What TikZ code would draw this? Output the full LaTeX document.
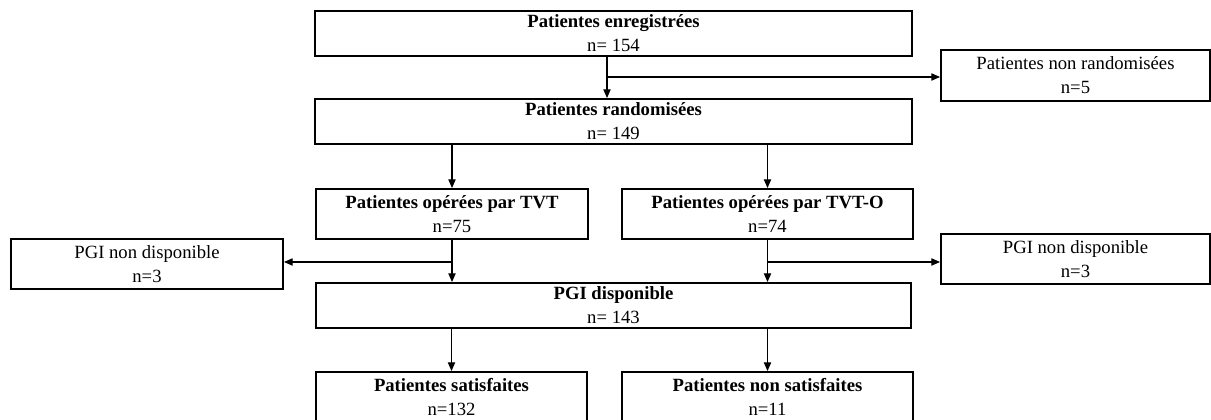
\documentclass[tikz,border=0pt]{standalone}
\usepackage{fontspec}
\setmainfont{Liberation Serif}
\usetikzlibrary{arrows.meta}
\tikzset{
  flowbox/.style={draw=black, line width=1.5pt, inner sep=0pt, align=center,
    font=\fontsize{14}{18}\selectfont},
  arr/.style={draw=black, line width=0.8pt, -{Triangle[length=6.5pt,width=5.5pt]}},
  ln/.style={draw=black, line width=0.8pt}
}
\begin{document}
\begin{tikzpicture}[x=0.75pt,y=-0.75pt]
\useasboundingbox (0,0) rectangle (1211,420);
\clip (0,0) rectangle (1211,420);
% boxes
\node[flowbox, minimum width=447.75pt, minimum height=33.75pt] (A) at (613.5,33.5)
  {\textbf{Patientes enregistrées}\\n= 154};
\node[flowbox, minimum width=447.75pt, minimum height=33.75pt] (B) at (613.5,121.5)
  {\textbf{Patientes randomisées}\\n= 149};
\node[flowbox, minimum width=201.75pt, minimum height=38.25pt] (C) at (1075.5,75.5)
  {Patientes non randomisées\\n=5};
\node[flowbox, minimum width=204pt, minimum height=37.5pt] (D) at (452,214)
  {\textbf{Patientes opérées par TVT}\\n=75};
\node[flowbox, minimum width=218.25pt, minimum height=37.5pt] (E) at (767.5,214)
  {\textbf{Patientes opérées par TVT-O}\\n=74};
\node[flowbox, minimum width=204pt, minimum height=37.5pt] (G) at (147,264)
  {PGI non disponible\\n=3};
\node[flowbox, minimum width=201.75pt, minimum height=37.5pt] (H) at (1075.5,259)
  {PGI non disponible\\n=3};
\node[flowbox, minimum width=446.25pt, minimum height=33.75pt] (F) at (613.5,305.5)
  {\textbf{PGI disponible}\\n= 143};
\node[flowbox, minimum width=203.25pt, minimum height=37.5pt] (I) at (451.5,397)
  {\textbf{Patientes satisfaites}\\n=132};
\node[flowbox, minimum width=218.25pt, minimum height=37.5pt] (J) at (767.5,397)
  {\textbf{Patientes non satisfaites}\\n=11};
% branch points
\coordinate (ab) at (607,77);
\coordinate (dg) at (452,262);
\coordinate (eh) at (767.5,262);
% connectors
\draw[arr] (A.south -| ab) -- (B.north -| ab);
\draw[arr] (ab) -- (ab -| C.west);
\draw[arr] (B.south -| D.north) -- (D.north);
\draw[arr] (B.south -| E.north) -- (E.north);
\draw[arr] (D.south) -- (D.south |- F.north);
\draw[arr] (dg) -- (dg -| G.east);
\draw[arr] (E.south) -- (E.south |- F.north);
\draw[arr] (eh) -- (eh -| H.west);
\draw[arr] (F.south -| I.north) -- (I.north);
\draw[arr] (F.south -| J.north) -- (J.north);
\end{tikzpicture}
\end{document}
